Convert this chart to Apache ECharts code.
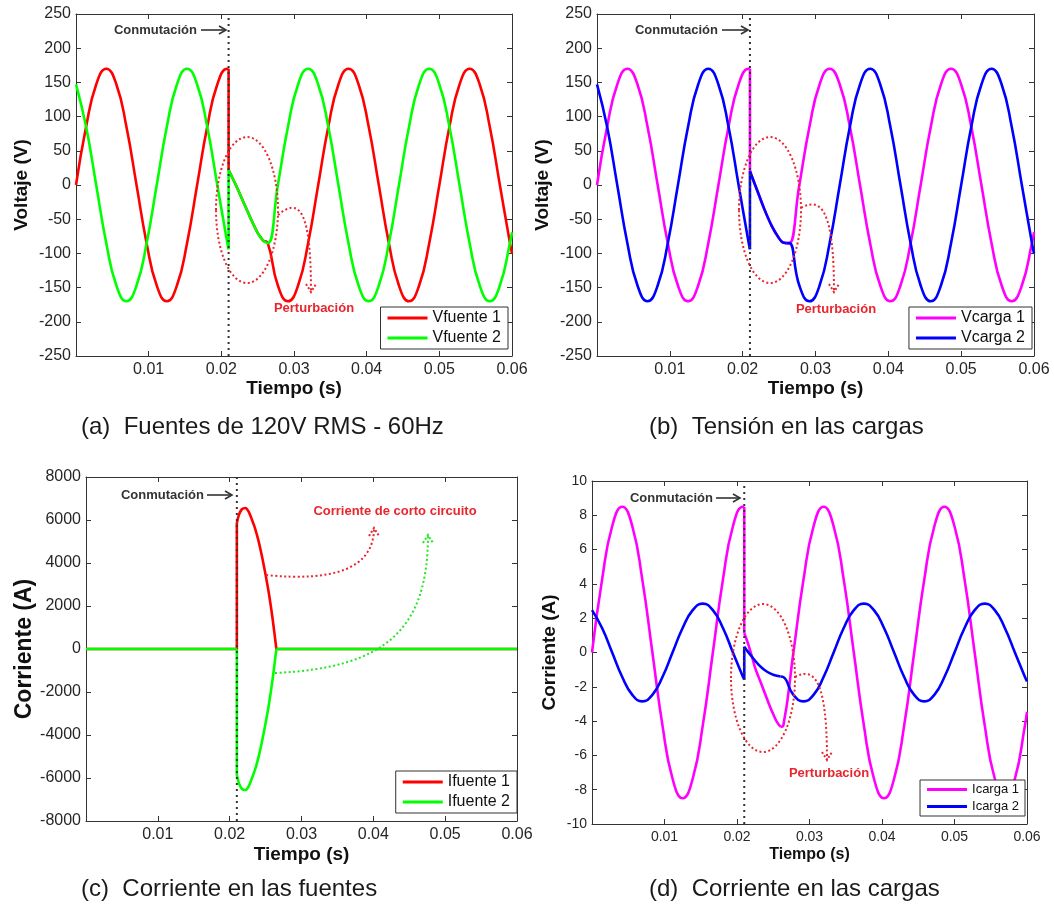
<!DOCTYPE html>
<html>
<head>
<meta charset="utf-8">
<script src="https://cdn.jsdelivr.net/npm/echarts/dist/echarts.min.js"></script>
<style>
  html, body { margin: 0; padding: 0; background: #fff; }
  #chart { width: 1054px; height: 909px; }
</style>
</head>
<body>
<div id="chart"></div>
<script>
// tiempos de muestreo (s), un punto cada 30 grados de la onda de 60 Hz
var tiempoPre = [0, 0.00139, 0.00278, 0.00417, 0.00556, 0.00694, 0.00833, 0.00972, 0.01111,
  0.0125, 0.01389, 0.01528, 0.01667, 0.01806, 0.01944, 0.02083, 0.021];
var tiempoPost = [0.02639, 0.02778, 0.02917, 0.03056, 0.03194, 0.03333, 0.03472, 0.03611, 0.0375,
  0.03889, 0.04028, 0.04167, 0.04306, 0.04444, 0.04583, 0.04722, 0.04861, 0.05, 0.05139, 0.05278,
  0.05417, 0.05556, 0.05694, 0.05833, 0.05972, 0.06];
var tConmutacion = 0.021;

// (a) voltaje en las fuentes
var vFuente1Pre = [0, 85, 147, 170, 147, 85, 0, -85, -147, -170, -147, -85, 0, 85, 147, 170, 170];
var vFuente2Pre = [147, 85, 0, -85, -147, -170, -147, -85, 0, 85, 147, 170, 147, 85, 0, -85, -94];
var tPerturbA = [0.021, 0.022, 0.023, 0.024, 0.025, 0.0258];
var vPerturbA = [22, 0, -24, -48, -70, -82];
var vFuente1Post = [-85, -147, -170, -147, -85, 0, 85, 147, 170, 147, 85, 0, -85, -147, -170, -147, -85,
  0, 85, 147, 170, 147, 85, 0, -85, -100];
var vFuente2Post = [-85, 0, 85, 147, 170, 147, 85, 0, -85, -147, -170, -147, -85, 0, 85, 147, 170,
  147, 85, 0, -85, -147, -170, -147, -85, -69];

// (b) tension en las cargas
var vCarga1Pre = [0, 85, 147, 170, 147, 85, 0, -85, -147, -170, -147, -85, 0, 85, 147, 170, 170];
var vCarga2Pre = [147, 85, 0, -85, -147, -170, -147, -85, 0, 85, 147, 170, 147, 85, 0, -85, -94];
var tPerturbB = [0.021, 0.022, 0.023, 0.024, 0.025, 0.0255, 0.026];
var vPerturbB = [20, -8, -36, -60, -78, -84, -85];
var vCarga1Post = [-85, 0, 85, 147, 170, 147, 85, 0, -85, -147, -170, -147, -85, 0, 85, 147, 170,
  147, 85, 0, -85, -147, -170, -147, -85, -69];
var vCarga2Post = [-85, -147, -170, -147, -85, 0, 85, 147, 170, 147, 85, 0, -85, -147, -170, -147, -85,
  0, 85, 147, 170, 147, 85, 0, -85, -100];

// (c) corriente en las fuentes
var tIniC = [0, 0.021];
var iFuente1Ini = [0, 0];
var iFuente2Ini = [0, 0];
var tCorto = [0.021, 0.0213, 0.0217, 0.0222, 0.0227, 0.023, 0.0235, 0.024, 0.0245, 0.025, 0.0255, 0.026, 0.0265];
var iFuente1Corto = [5860, 6250, 6500, 6560, 6350, 6100, 5650, 5050, 4300, 3450, 2500, 1350, 0];
var iFuente2Corto = [-5860, -6250, -6500, -6560, -6350, -6100, -5650, -5050, -4300, -3450, -2500, -1350, 0];
var tFinC = [0.06];
var iFuente1Fin = [0];
var iFuente2Fin = [0];

// (d) corriente en las cargas
var iCarga1Pre = [0, 4.25, 7.36, 8.5, 7.36, 4.25, 0, -4.25, -7.36, -8.5, -7.36, -4.25, 0, 4.25, 7.36, 8.5, 8.48];
var iCarga2Pre = [2.47, 1.43, 0, -1.43, -2.47, -2.85, -2.47, -1.43, 0, 1.43, 2.47, 2.85, 2.47, 1.43, 0, -1.43, -1.58];
var tPerturbD = [0.021, 0.0215, 0.022, 0.0225, 0.023, 0.0235, 0.024, 0.0245, 0.025, 0.0255, 0.026];
var iCarga1Perturb = [1.12, 0.55, -0.15, -0.9, -1.45, -2.0, -2.55, -3.1, -3.6, -4.05, -4.33];
var iCarga2Perturb = [0.34, 0.05, -0.22, -0.48, -0.72, -0.92, -1.08, -1.20, -1.30, -1.36, -1.40];
var iCarga1Post = [-4.25, 0, 4.25, 7.36, 8.5, 7.36, 4.25, 0, -4.25, -7.36, -8.5, -7.36, -4.25, 0, 4.25, 7.36, 8.5,
  7.36, 4.25, 0, -4.25, -7.36, -8.5, -7.36, -4.25, -3.46];
var iCarga2Post = [-1.43, -2.47, -2.85, -2.47, -1.43, 0, 1.43, 2.47, 2.85, 2.47, 1.43, 0, -1.43, -2.47, -2.85, -2.47, -1.43,
  0, 1.43, 2.47, 2.85, 2.47, 1.43, 0, -1.43, -1.68];

// ejes y: [min, max, intervalo]
var ejeVoltaje = [-250, 250, 50];
var ejeCorrienteFuente = [-8000, 8000, 2000];
var ejeCorrienteCarga = [-10, 10, 2];

var FUENTE = '"Liberation Sans", Arial, sans-serif';
var ROJO = '#ff0000', VERDE = '#00ff00', MAGENTA = '#ff00ff', AZUL = '#0000ff';
var NOTA = '#e8262d';

var myChart = echarts.init(document.getElementById('chart'));

function zip(ts, vs) {
  return ts.map(function (t, i) { return [t, vs[i]]; });
}

// cada curva: tramo previo, salto en la conmutacion, perturbacion, tramo posterior
function piezas(nombre, color, g, tPre, vPre, tMid, vMid, tPost, vPost) {
  var pre = zip(tPre, vPre);
  var mid = zip(tMid, vMid);
  var salto = [pre[pre.length - 1], mid[0]];
  var post = [mid[mid.length - 1]].concat(zip(tPost, vPost));
  return [pre, salto, mid, post].map(function (d, j) {
    return {
      name: nombre, type: 'line', xAxisIndex: 2 * g, yAxisIndex: 2 * g,
      data: d, symbol: 'none', showSymbol: false, silent: true,
      smooth: j === 1 ? false : (j === 2 ? 0.3 : 0.5),
      lineStyle: { color: color, width: 2.6 }, itemStyle: { color: color }
    };
  });
}

var rejillas = [
  { left: 76, top: 14, width: 436, height: 342 },
  { left: 597, top: 14, width: 437, height: 342 },
  { left: 86, top: 477, width: 431, height: 344 },
  { left: 592, top: 481, width: 435, height: 343 }
];
var configEjes = [
  { y: ejeVoltaje, nombre: 'Voltaje (V)', fs: 16, fnx: 19, fny: 19, gapX: 23, gapY: 45 },
  { y: ejeVoltaje, nombre: 'Voltaje (V)', fs: 16, fnx: 19, fny: 19, gapX: 23, gapY: 45 },
  { y: ejeCorrienteFuente, nombre: 'Corriente (A)', fs: 16, fnx: 19, fny: 23, gapX: 24, gapY: 46 },
  { y: ejeCorrienteCarga, nombre: 'Corriente (A)', fs: 14, fnx: 16, fny: 19, gapX: 23, gapY: 33 }
];

var lineaEje = { onZero: false, lineStyle: { color: '#333', width: 1 } };
var marcaEje = { inside: true, length: 5, lineStyle: { color: '#333' } };

var xAxis = [], yAxis = [];
configEjes.forEach(function (c, g) {
  xAxis.push({
    gridIndex: g, type: 'value', min: 0, max: 0.06, interval: 0.01,
    axisLine: lineaEje, axisTick: marcaEje, splitLine: { show: false },
    axisLabel: {
      margin: 6, fontSize: c.fs, color: '#262626', fontFamily: FUENTE,
      formatter: function (v) { return v === 0 ? '' : v.toFixed(2); }
    },
    name: 'Tiempo (s)', nameLocation: 'middle', nameGap: c.gapX,
    nameTextStyle: { fontSize: c.fnx, fontWeight: 'bold', color: '#111', fontFamily: FUENTE }
  });
  xAxis.push({
    gridIndex: g, type: 'value', position: 'top', min: 0, max: 0.06, interval: 0.01,
    axisLine: lineaEje, axisTick: marcaEje, axisLabel: { show: false }, splitLine: { show: false }
  });
  yAxis.push({
    gridIndex: g, type: 'value', min: c.y[0], max: c.y[1], interval: c.y[2],
    axisLine: lineaEje, axisTick: marcaEje, splitLine: { show: false },
    axisLabel: {
      margin: 5, fontSize: c.fs, color: '#262626', fontFamily: FUENTE,
      formatter: function (v) { return String(v); }
    },
    name: c.nombre, nameLocation: 'middle', nameGap: c.gapY,
    nameTextStyle: { fontSize: c.fny, fontWeight: 'bold', color: '#111', fontFamily: FUENTE }
  });
  yAxis.push({
    gridIndex: g, type: 'value', position: 'right', min: c.y[0], max: c.y[1], interval: c.y[2],
    axisLine: lineaEje, axisTick: marcaEje, axisLabel: { show: false }, splitLine: { show: false }
  });
});

var series = [].concat(
  piezas('Vfuente 1', ROJO, 0, tiempoPre, vFuente1Pre, tPerturbA, vPerturbA, tiempoPost, vFuente1Post),
  piezas('Vfuente 2', VERDE, 0, tiempoPre, vFuente2Pre, tPerturbA, vPerturbA, tiempoPost, vFuente2Post),
  piezas('Vcarga 1', MAGENTA, 1, tiempoPre, vCarga1Pre, tPerturbB, vPerturbB, tiempoPost, vCarga1Post),
  piezas('Vcarga 2', AZUL, 1, tiempoPre, vCarga2Pre, tPerturbB, vPerturbB, tiempoPost, vCarga2Post),
  piezas('Ifuente 1', ROJO, 2, tIniC, iFuente1Ini, tCorto, iFuente1Corto, tFinC, iFuente1Fin),
  piezas('Ifuente 2', VERDE, 2, tIniC, iFuente2Ini, tCorto, iFuente2Corto, tFinC, iFuente2Fin),
  piezas('Icarga 1', MAGENTA, 3, tiempoPre, iCarga1Pre, tPerturbD, iCarga1Perturb, tiempoPost, iCarga1Post),
  piezas('Icarga 2', AZUL, 3, tiempoPre, iCarga2Pre, tPerturbD, iCarga2Perturb, tiempoPost, iCarga2Post)
);
// linea punteada de conmutacion, de abajo a arriba del eje
configEjes.forEach(function (c, g) {
  series.push({
    type: 'line', xAxisIndex: 2 * g, yAxisIndex: 2 * g, z: 5, silent: true,
    data: [[tConmutacion, c.y[0]], [tConmutacion, c.y[1]]], symbol: 'none',
    lineStyle: { color: '#333', width: 2, type: [2, 4] }
  });
});

function leyenda(nombres, right, top, fs, pad) {
  return {
    data: nombres, orient: 'vertical', right: right, top: top,
    icon: 'rect', itemWidth: 40, itemHeight: 3, itemGap: 4, padding: pad,
    borderColor: '#333', borderWidth: 1, backgroundColor: '#fff',
    selectedMode: false,
    textStyle: { fontSize: fs, color: '#111', fontFamily: FUENTE }
  };
}

function conmutacion(xFin, y, x1, x2) {
  return [
    { type: 'text', x: xFin, y: y, z: 10,
      style: { text: 'Conmutación', font: 'bold 13px ' + FUENTE, fill: '#333', align: 'right', verticalAlign: 'middle' } },
    { type: 'line', z: 10, shape: { x1: x1, y1: y, x2: x2, y2: y }, style: { stroke: '#333', lineWidth: 1.6 } },
    { type: 'polyline', z: 10, shape: { points: [[x2 - 7, y - 4], [x2, y], [x2 - 7, y + 4]] },
      style: { stroke: '#333', lineWidth: 1.6, fill: null } }
  ];
}

function elipse(cx, cy, rx, ry) {
  return { type: 'ellipse', z: 10, shape: { cx: cx, cy: cy, rx: rx, ry: ry },
    style: { stroke: NOTA, fill: null, lineWidth: 2, lineDash: [2, 2.5] } };
}

function curvaFlecha(s, color, arriba) {
  var px = s[6], py = s[7];
  var d = arriba ? 8 : -8;
  return [
    { type: 'bezierCurve', z: 10,
      shape: { x1: s[0], y1: s[1], cpx1: s[2], cpy1: s[3], cpx2: s[4], cpy2: s[5], x2: px, y2: py },
      style: { stroke: color, fill: null, lineWidth: 2, lineDash: [2, 2.5] } },
    { type: 'polyline', z: 10, shape: { points: [[px - 5, py + d], [px, py], [px + 5, py + d]] },
      style: { stroke: color, fill: null, lineWidth: 2, lineDash: [2, 2] } }
  ];
}

function nota(texto, x, y, color) {
  return { type: 'text', x: x, y: y, z: 10,
    style: { text: texto, font: 'bold 13px ' + FUENTE, fill: color, align: 'center', verticalAlign: 'middle' } };
}

var graficos = [].concat(
  conmutacion(197, 30, 201, 226),
  conmutacion(718, 30, 722, 748),
  conmutacion(204, 495, 207, 232),
  conmutacion(713, 498, 716, 740),
  [elipse(247, 210, 31, 73), elipse(770, 210, 31, 73), elipse(763, 678, 32, 74)],
  curvaFlecha([278, 215, 300, 196, 311, 212, 311, 292], NOTA, false),
  curvaFlecha([801, 208, 822, 196, 834, 212, 834, 292], NOTA, false),
  curvaFlecha([795, 677, 815, 666, 827, 682, 827, 760], NOTA, false),
  curvaFlecha([266, 575, 335, 582, 374, 568, 374, 528], NOTA, true),
  curvaFlecha([275, 673, 385, 668, 428, 630, 428, 535], '#22e622', true),
  [
    nota('Perturbación', 314, 308, NOTA),
    nota('Perturbación', 836, 309, NOTA),
    nota('Perturbación', 829, 773, NOTA),
    nota('Corriente de corto circuito', 395, 511, NOTA)
  ]
);

function subtitulo(texto, left, top) {
  return { text: texto, left: left, top: top, padding: 0,
    textStyle: { fontSize: 24, fontWeight: 'normal', color: '#1a1a1a', fontFamily: FUENTE } };
}

var option = {
  animation: false,
  textStyle: { fontFamily: FUENTE },
  title: [
    subtitulo('(a)  Fuentes de 120V RMS - 60Hz', 81, 415),
    subtitulo('(b)  Tensión en las cargas', 649, 415),
    subtitulo('(c)  Corriente en las fuentes', 81, 877),
    subtitulo('(d)  Corriente en las cargas', 649, 877)
  ],
  grid: rejillas,
  xAxis: xAxis,
  yAxis: yAxis,
  legend: [
    leyenda(['Vfuente 1', 'Vfuente 2'], 546, 307, 16, [3, 7, 3, 7]),
    leyenda(['Vcarga 1', 'Vcarga 2'], 22, 307, 16, [3, 7, 3, 7]),
    leyenda(['Ifuente 1', 'Ifuente 2'], 537, 771, 16, [3, 7, 3, 7]),
    leyenda(['Icarga 1', 'Icarga 2'], 29, 780, 13, [3, 6, 3, 7])
  ],
  graphic: graficos,
  series: series
};

myChart.setOption(option);
</script>
</body>
</html>
